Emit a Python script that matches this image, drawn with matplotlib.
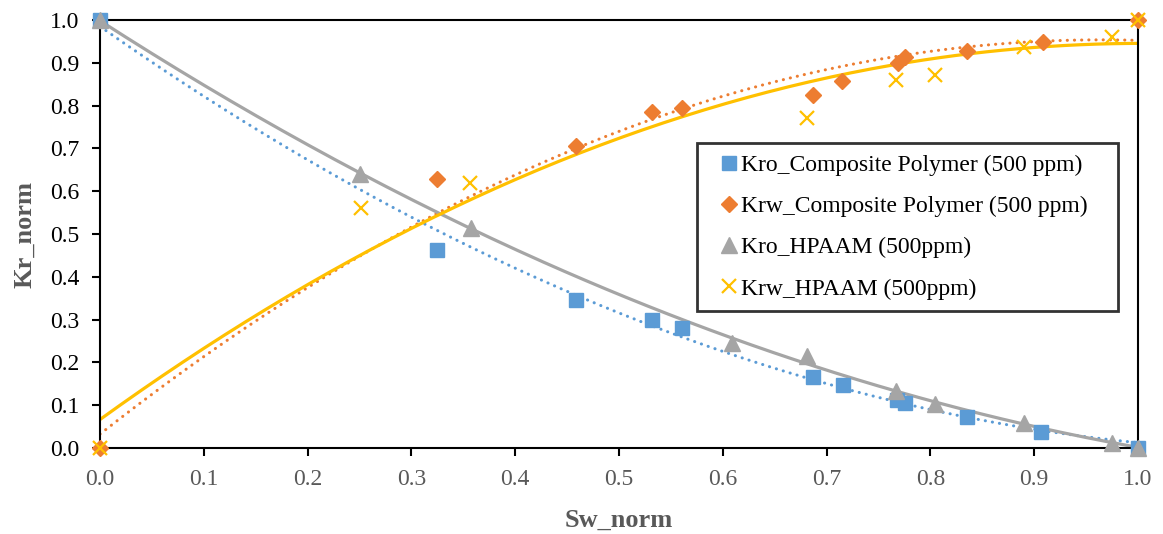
import numpy as np
import matplotlib
matplotlib.use("Agg")
import matplotlib.pyplot as plt

plt.rcParams['font.family'] = ['Liberation Serif', 'DejaVu Serif']

# ---- data ----
kro_cp_x = [0.0, 0.325, 0.459, 0.532, 0.561, 0.687, 0.716, 0.768, 0.776, 0.835, 0.907, 1.0]
kro_cp_y = [1.0, 0.463, 0.346, 0.299, 0.280, 0.166, 0.147, 0.112, 0.105, 0.073, 0.038, 0.0]

krw_cp_x = [0.0, 0.325, 0.459, 0.532, 0.561, 0.687, 0.715, 0.769, 0.776, 0.835, 0.908, 1.0]
krw_cp_y = [0.0, 0.628, 0.706, 0.785, 0.794, 0.825, 0.857, 0.900, 0.913, 0.928, 0.949, 1.0]

kro_hp_x = [0.0, 0.250, 0.357, 0.609, 0.681, 0.767, 0.804, 0.890, 0.975, 1.0]
kro_hp_y = [1.0, 0.640, 0.514, 0.245, 0.214, 0.133, 0.103, 0.058, 0.012, 0.0]

krw_hp_x = [0.0, 0.251, 0.356, 0.681, 0.767, 0.804, 0.890, 0.975, 1.0]
krw_hp_y = [0.0, 0.561, 0.619, 0.771, 0.860, 0.872, 0.937, 0.961, 1.0]

labels = ["Kro_Composite Polymer (500 ppm)", "Krw_Composite Polymer (500 ppm)",
          "Kro_HPAAM (500ppm)", "Krw_HPAAM (500ppm)"]
x_ticks = [0.0, 0.1, 0.2, 0.3, 0.4, 0.5, 0.6, 0.7, 0.8, 0.9, 1.0]
y_ticks = [0.0, 0.1, 0.2, 0.3, 0.4, 0.5, 0.6, 0.7, 0.8, 0.9, 1.0]

BLUE, ORANGE, GRAY, YELLOW = "#5B9BD5", "#ED7D31", "#A5A5A5", "#FFC000"

fig = plt.figure(figsize=(11.63, 5.34), dpi=100)
ax = fig.add_axes([100/1163, 1-448/534, 1038/1163, 428/534])

xs = np.linspace(0, 1, 200)

def trend(x, y, deg=2):
    c = np.polyfit(x, y, deg)
    return np.polyval(c, xs)

dot = (0, (0.05, 2.3))
ax.plot(xs, trend(kro_cp_x, kro_cp_y), color=BLUE, lw=2.2, ls=dot, dash_capstyle='round', zorder=2)
ax.plot(xs, trend(krw_cp_x, krw_cp_y), color=ORANGE, lw=2.2, ls=dot, dash_capstyle='round', zorder=2)
ax.plot(xs, trend(kro_hp_x, kro_hp_y), color=GRAY, lw=2.3, ls='-', zorder=2)
ax.plot(xs, trend(krw_hp_x, krw_hp_y), color=YELLOW, lw=2.3, ls='-', zorder=2)

ax.plot(kro_cp_x, kro_cp_y, ls='none', marker='s', ms=10.5, color=BLUE, mec=BLUE,
        label=labels[0], clip_on=False, zorder=4)
ax.plot(krw_cp_x, krw_cp_y, ls='none', marker='D', ms=7.8, color=ORANGE, mec=ORANGE,
        label=labels[1], clip_on=False, zorder=4)
ax.plot(kro_hp_x, kro_hp_y, ls='none', marker='^', ms=11, color=GRAY, mec=GRAY,
        label=labels[2], clip_on=False, zorder=4)
ax.plot(krw_hp_x, krw_hp_y, ls='none', marker='x', ms=10, mew=1.6, color=YELLOW,
        label=labels[3], clip_on=False, zorder=5)

ax.set_xlim(0, 1)
ax.set_ylim(0, 1)
ax.set_xticks(x_ticks)
ax.set_yticks(y_ticks)
ax.set_xticklabels([f"{v:.1f}" for v in x_ticks])
ax.set_yticklabels([f"{v:.1f}" for v in y_ticks])
ax.tick_params(axis='x', direction='out', length=6, width=1.5, labelsize=17,
               labelcolor='#595959', pad=9)
ax.tick_params(axis='y', direction='out', length=6, width=1.5, labelsize=17,
               labelcolor='#000000', pad=9)
for s in ax.spines.values():
    s.set_linewidth(1.5)
    s.set_color('black')

ax.set_xlabel("Sw_norm", fontsize=19, fontweight='bold', color='#595959', labelpad=14)
ax.set_ylabel("Kr_norm", fontsize=19, fontweight='bold', color='#595959', labelpad=10)

leg = ax.legend(loc='upper left', bbox_to_anchor=(0.575, 0.327, 0.406, 0.386),
                mode='expand', fontsize=17,
                frameon=True, fancybox=False, edgecolor='black', borderpad=0.5,
                handlelength=1.75, handletextpad=-0.37, labelspacing=0.83,
                borderaxespad=0)
leg.get_frame().set_linewidth(2)
leg.set_zorder(6)

fig.savefig("out.png", dpi=100)
